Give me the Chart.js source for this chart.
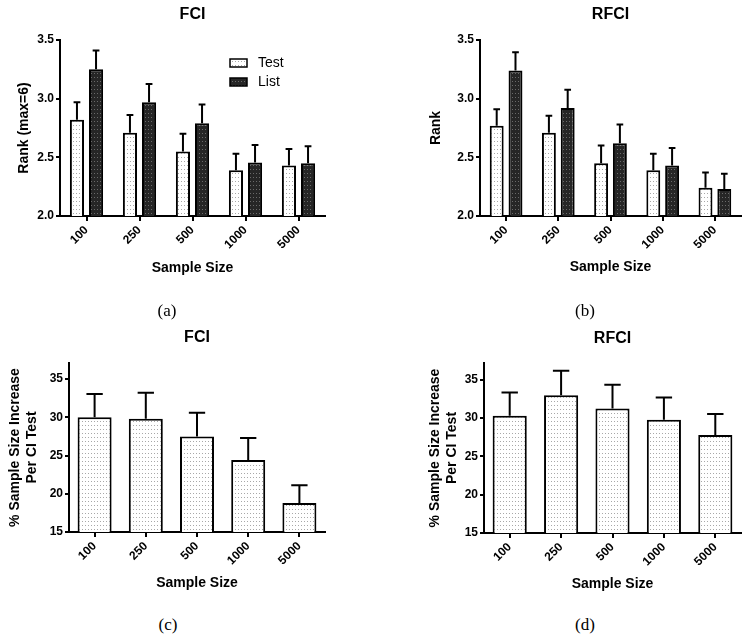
<!DOCTYPE html>
<html>
<head>
<meta charset="utf-8">
<script src="https://cdn.jsdelivr.net/npm/chart.js@4.4.1/dist/chart.umd.min.js"></script>
<style>
  body { margin: 0; background: #fff; }
  #page { position: relative; width: 747px; height: 641px; background: #fff; }
  .panel { position: absolute; }
  .cap { position: absolute; font-family: 'Liberation Serif', 'DejaVu Serif', serif; font-size: 17px; color: #000; transform: translate(-50%, -50%); }
</style>
</head>
<body>
<div id="page">
  <canvas id="chartA" class="panel" style="left:0;top:0" width="373" height="290"></canvas>
  <canvas id="chartB" class="panel" style="left:373px;top:0" width="374" height="290"></canvas>
  <canvas id="chartC" class="panel" style="left:0;top:320px" width="373" height="285"></canvas>
  <canvas id="chartD" class="panel" style="left:373px;top:320px" width="374" height="285"></canvas>
  <div class="cap" style="left:167px;top:311px">(a)</div>
  <div class="cap" style="left:585px;top:311px">(b)</div>
  <div class="cap" style="left:168px;top:625px">(c)</div>
  <div class="cap" style="left:585px;top:625px">(d)</div>
</div>
<script>
// 데이터
const sampleSizes = ['100', '250', '500', '1000', '5000'];

// (a) FCI rank
const fciTestRank = [2.82, 2.71, 2.55, 2.39, 2.43];
const fciTestRankErr = [0.15, 0.15, 0.15, 0.14, 0.14];
const fciListRank = [3.25, 2.97, 2.79, 2.455, 2.45];
const fciListRankErr = [0.16, 0.155, 0.16, 0.15, 0.145];

// (b) RFCI rank
const rfciTestRank = [2.77, 2.71, 2.45, 2.39, 2.24];
const rfciTestRankErr = [0.14, 0.145, 0.15, 0.14, 0.13];
const rfciListRank = [3.24, 2.92, 2.62, 2.43, 2.23];
const rfciListRankErr = [0.155, 0.155, 0.16, 0.15, 0.13];

// (c), (d) % sample size increase
const fciIncrease = [30.0, 29.8, 27.5, 24.4, 18.8];
const fciIncreaseErr = [3.05, 3.4, 3.1, 2.9, 2.3];
const rfciIncrease = [30.3, 33.0, 31.25, 29.8, 27.8];
const rfciIncreaseErr = [3.05, 3.2, 3.1, 2.9, 2.75];

const rankTicks = [2.0, 2.5, 3.0, 3.5];
const increaseTicks = [15, 20, 25, 30, 35];

Chart.defaults.font.family = "'Liberation Sans', Arial, sans-serif";
Chart.defaults.font.weight = 'bold';
Chart.defaults.color = '#000';

// 점무늬 채우기
function dotPattern(bg, dot) {
  const c = document.createElement('canvas');
  c.width = 3;
  c.height = 4;
  const g = c.getContext('2d');
  g.fillStyle = bg;
  g.fillRect(0, 0, 3, 4);
  g.fillStyle = dot;
  g.fillRect(1, 1, 1, 1);
  return g.createPattern(c, 'repeat');
}
const lightFill = dotPattern('#ffffff', '#a8a8a8');
const darkFill = dotPattern('#262626', '#6a6a6a');

// 오차 막대 (위쪽만)
const errorBars = {
  id: 'errorBars',
  afterDatasetsDraw(chart) {
    const ctx = chart.ctx;
    const y = chart.scales.y;
    chart.data.datasets.forEach((ds, i) => {
      if (!ds.errors) return;
      chart.getDatasetMeta(i).data.forEach((bar, j) => {
        const top = y.getPixelForValue(ds.data[j] + ds.errors[j]);
        const half = bar.width * 0.24;
        ctx.save();
        ctx.strokeStyle = '#000';
        ctx.lineWidth = 2;
        ctx.beginPath();
        ctx.moveTo(bar.x, bar.y);
        ctx.lineTo(bar.x, top);
        ctx.moveTo(bar.x - half, top);
        ctx.lineTo(bar.x + half, top);
        ctx.stroke();
        ctx.restore();
      });
    });
  }
};

// 범례 (그림 안쪽 오른쪽 위)
const innerLegend = {
  id: 'innerLegend',
  afterDraw(chart) {
    const ctx = chart.ctx;
    const area = chart.chartArea;
    const x = area.right - 95;
    let y = area.top + 23;
    ctx.save();
    chart.data.datasets.forEach(ds => {
      ctx.fillStyle = ds.backgroundColor;
      ctx.fillRect(x, y - 4, 17, 8);
      ctx.strokeStyle = '#000';
      ctx.lineWidth = 1.5;
      ctx.strokeRect(x, y - 4, 17, 8);
      ctx.fillStyle = '#000';
      ctx.font = "normal 14px 'Liberation Sans', Arial, sans-serif";
      ctx.textBaseline = 'middle';
      ctx.fillText(ds.label, x + 28, y);
      y += 19;
    });
    ctx.restore();
  }
};

function makePanel(id, p) {
  const datasets = p.series.map(s => ({
    label: s.label,
    data: s.data,
    errors: s.errors,
    backgroundColor: s.fill,
    borderColor: '#000',
    borderWidth: 2,
    borderSkipped: 'start',
    categoryPercentage: p.catPct,
    barPercentage: p.barPct
  }));

  return new Chart(document.getElementById(id), {
    type: 'bar',
    data: { labels: sampleSizes, datasets },
    plugins: p.legend ? [errorBars, innerLegend] : [errorBars],
    options: {
      responsive: false,
      animation: false,
      layout: { padding: { left: 0, right: p.padRight, top: 0, bottom: 0 } },
      plugins: {
        legend: { display: false },
        tooltip: { enabled: false },
        title: {
          display: true,
          text: p.title,
          fullSize: false,
          font: { size: 16, weight: 'bold' },
          padding: { top: p.titleTop, bottom: p.titleBottom }
        }
      },
      scales: {
        x: {
          grid: { display: true, drawOnChartArea: false, offset: false, color: '#000', lineWidth: 2, tickLength: 5 },
          border: { display: true, color: '#000', width: 2 },
          ticks: { font: { size: 12, weight: 'bold' }, maxRotation: 45, minRotation: 45, padding: 2 },
          title: { display: true, text: 'Sample Size', font: { size: 14, weight: 'bold' }, padding: { top: 0, bottom: p.xTitleBottom } },
          afterFit: s => { s.height = p.xHeight; }
        },
        y: {
          min: p.yMin,
          max: p.yMax,
          afterBuildTicks: s => { s.ticks = p.yTicks.map(v => ({ value: v })); },
          grid: { display: true, drawOnChartArea: false, color: '#000', lineWidth: 2, tickLength: 4 },
          border: { display: true, color: '#000', width: 2 },
          ticks: {
            font: { size: 12, weight: 'bold' },
            padding: 2,
            callback: v => v.toFixed(p.decimals)
          },
          title: { display: true, text: p.yTitle, font: { size: 14, weight: 'bold' }, padding: { top: p.yTitleTop, bottom: 0 } },
          afterFit: s => { s.width = p.yWidth; }
        }
      }
    }
  });
}

makePanel('chartA', {
  title: 'FCI', yTitle: 'Rank (max=6)', legend: true,
  series: [
    { label: 'Test', data: fciTestRank, errors: fciTestRankErr, fill: lightFill },
    { label: 'List', data: fciListRank, errors: fciListRankErr, fill: darkFill }
  ],
  yMin: 2, yMax: 3.5, yTicks: rankTicks, decimals: 1,
  catPct: 0.72, barPct: 0.74,
  padRight: 48, yWidth: 60, yTitleTop: 16, xHeight: 74, xTitleBottom: 13.6,
  titleTop: 5.4, titleBottom: 15.4
});

makePanel('chartB', {
  title: 'RFCI', yTitle: 'Rank',
  series: [
    { label: 'Test', data: rfciTestRank, errors: rfciTestRankErr, fill: lightFill },
    { label: 'List', data: rfciListRank, errors: rfciListRankErr, fill: darkFill }
  ],
  yMin: 2, yMax: 3.5, yTicks: rankTicks, decimals: 1,
  catPct: 0.72, barPct: 0.74,
  padRight: 6, yWidth: 107, yTitleTop: 54.6, xHeight: 74, xTitleBottom: 14.6,
  titleTop: 5.4, titleBottom: 15.4
});

makePanel('chartC', {
  title: 'FCI', yTitle: ['% Sample Size Increase', 'Per CI Test'],
  series: [
    { label: 'FCI', data: fciIncrease, errors: fciIncreaseErr, fill: lightFill }
  ],
  yMin: 15, yMax: 37.1, yTicks: increaseTicks, decimals: 0,
  catPct: 0.8, barPct: 0.83,
  padRight: 48, yWidth: 69, yTitleTop: 6.6, xHeight: 73, xTitleBottom: 13.6,
  titleTop: 8.4, titleBottom: 15.4
});

makePanel('chartD', {
  title: 'RFCI', yTitle: ['% Sample Size Increase', 'Per CI Test'],
  series: [
    { label: 'RFCI', data: rfciIncrease, errors: rfciIncreaseErr, fill: lightFill }
  ],
  yMin: 15, yMax: 37.2, yTicks: increaseTicks, decimals: 0,
  catPct: 0.8, barPct: 0.83,
  padRight: 6, yWidth: 111, yTitleTop: 53.6, xHeight: 72, xTitleBottom: 12.6,
  titleTop: 9.4, titleBottom: 14.4
});
</script>
</body>
</html>
